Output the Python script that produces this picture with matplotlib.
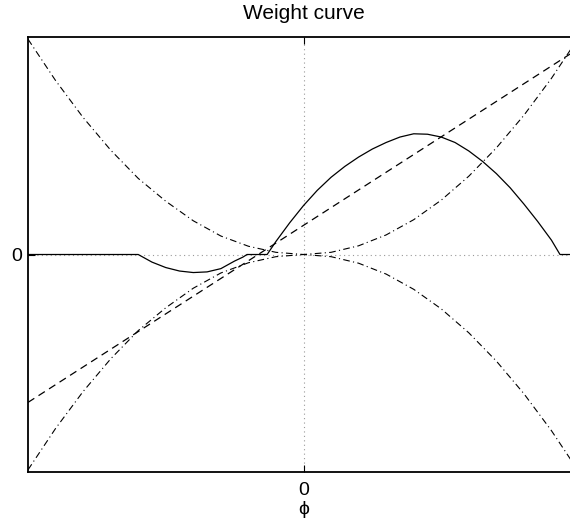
import matplotlib
matplotlib.use("Agg")
import matplotlib.pyplot as plt

plt.rcParams["font.family"] = ["Liberation Sans", "DejaVu Sans"]

# weight curve (solid)
w_x = [-1.0, -0.6, -0.55, -0.5, -0.45, -0.4, -0.35, -0.3, -0.25, -0.22, -0.205,
       -0.132, -0.1, -0.05, 0.0, 0.05, 0.1, 0.15, 0.2, 0.25, 0.3, 0.35, 0.4,
       0.45, 0.5, 0.55, 0.6, 0.65, 0.7, 0.75, 0.8, 0.85, 0.9, 0.931, 1.0]
w_y = [0.0, 0.0, -0.035, -0.06, -0.076, -0.083, -0.08, -0.065, -0.03, -0.012, 0.0,
       0.0, 0.06, 0.146, 0.225, 0.295, 0.355, 0.405, 0.448, 0.485, 0.515, 0.54, 0.555,
       0.553, 0.54, 0.515, 0.476, 0.428, 0.372, 0.307, 0.232, 0.152, 0.066, 0.0, 0.0]

# straight dashed reference
line_x = [-1.0, 1.0]
line_y = [-0.68, 0.948]

# upper / lower dash-dot envelopes
env_x = [-1.0, -0.9, -0.8, -0.7, -0.6, -0.5, -0.4, -0.3, -0.2, -0.1, 0.0,
         0.1, 0.2, 0.3, 0.4, 0.5, 0.6, 0.7, 0.8, 0.9, 1.0]
env_up = [0.99, 0.80, 0.63, 0.48, 0.35, 0.245, 0.155, 0.085, 0.038, 0.01, 0.0,
          0.01, 0.04, 0.09, 0.16, 0.25, 0.36, 0.49, 0.64, 0.81, 1.0]
env_lo = [-0.99, -0.80, -0.63, -0.48, -0.35, -0.245, -0.155, -0.085, -0.038, -0.01, 0.0,
          -0.01, -0.04, -0.09, -0.16, -0.25, -0.36, -0.49, -0.64, -0.81, -1.0]

fig = plt.figure(figsize=(5.7, 5.26), dpi=100)
ax = fig.add_axes([28 / 570, (526 - 472) / 526, 551 / 570, (472 - 37) / 526])

ax.axhline(0, color="0.6", lw=0.8, ls=(0, (1, 3)), zorder=1)
ax.axvline(0, color="0.6", lw=0.8, ls=(0, (1, 3)), zorder=1)

ax.plot(w_x, w_y, color="black", lw=0.9, zorder=3)
ax.plot(line_x, line_y, color="black", lw=0.9, ls=(0, (6, 4)), zorder=3)
ax.plot(env_x, env_up, color="black", lw=0.8, ls=(0, (6, 3, 1, 3)), zorder=3)
ax.plot(env_x, env_lo, color="black", lw=0.8, ls=(0, (6, 3, 1, 3)), zorder=3)

ax.set_xlim(-1, 1)
ax.set_ylim(-1, 1)
ax.set_xticks([0])
ax.set_yticks([0])
ax.set_xticklabels(["0"])
ax.set_yticklabels(["0"])
ax.tick_params(direction="in", length=5, width=0.8, top=True, right=True,
               labelsize=14)
ax.tick_params(axis="x", pad=7)
ax.tick_params(axis="y", pad=4)
for s in ax.spines.values():
    s.set_linewidth(1.3)

ax.set_title("Weight curve", fontsize=15, pad=13)
ax.set_xlabel("\u03d5", fontsize=14, labelpad=2)

fig.savefig("out.png", dpi=100)
